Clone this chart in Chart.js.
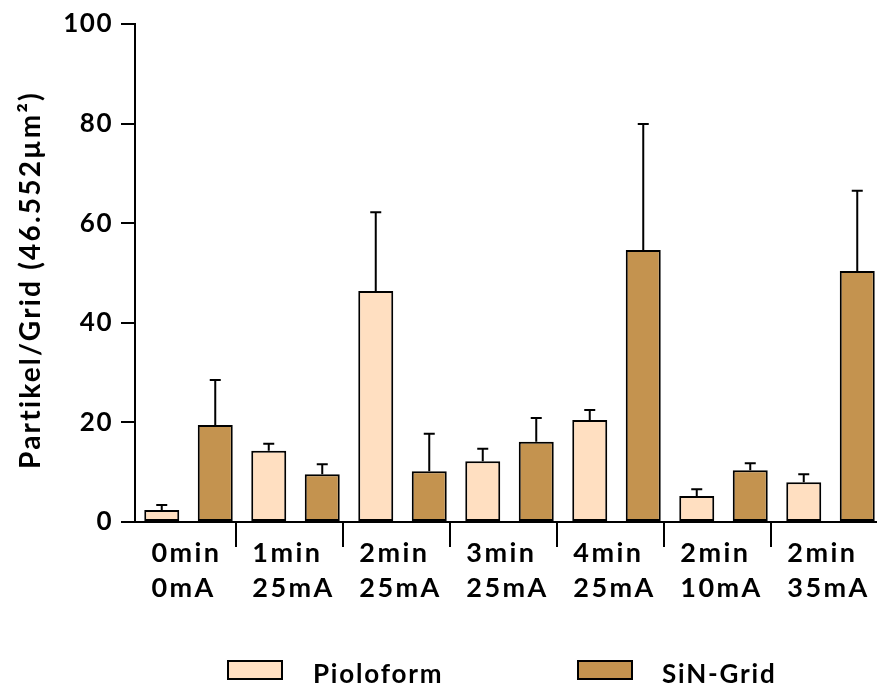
<!DOCTYPE html>
<html>
<head>
<meta charset="utf-8">
<script src="https://cdn.jsdelivr.net/npm/chart.js@4"></script>
<style>
  html, body { margin: 0; padding: 0; background: #fff; overflow: hidden; }
  #wrap { position: relative; width: 877px; height: 683px; overflow: hidden; }
  #chart { position: absolute; left: 0; top: 0; }
  .swatch { position: absolute; top: 660px; width: 52px; height: 16px; border: 2px solid #000; }
  .legend-text { position: absolute; top: 657px; white-space: nowrap; line-height: 26px;
                 font: bold 26px Lato, sans-serif; letter-spacing: 1.8px; color: #000; }
</style>
</head>
<body>
<div id="wrap">
  <canvas id="chart" width="884" height="683"></canvas>
  <span class="swatch" style="left:227px; background:#FFDFC1"></span>
  <span class="legend-text" style="left:313px">Pioloform</span>
  <span class="swatch" style="left:577px; background:#C4934F"></span>
  <span class="legend-text" style="left:662px">SiN-Grid</span>
</div>
<script>
// ---- data ----
const categories = [
  ["0min", "0mA"], ["1min", "25mA"], ["2min", "25mA"], ["3min", "25mA"],
  ["4min", "25mA"], ["2min", "10mA"], ["2min", "35mA"]
];
const pioloform    = [2.4, 14.3, 46.4, 12.2, 20.5, 5.2, 8.0];
const pioloformErr = [1.0, 1.4, 15.8, 2.5, 2.0, 1.4, 1.6];
const sinGrid      = [19.5, 9.6, 10.2, 16.1, 54.6, 10.4, 50.4];
const sinGridErr   = [9.0, 2.0, 7.5, 4.8, 25.3, 1.4, 16.1];
const yTicks = [0, 20, 40, 60, 80, 100];
const yTitle = "Partikel/Grid (46.552µm²)";

// ---- style ----
const PIO_FILL = "#FFDFC1";
const SIN_FILL = "#C4934F";
const INK = "#000";
const FONT = "Lato, sans-serif";
const CAP = 11;        // error bar cap width
const SEP_LEN = 25;    // category separator length below the axis
const SEP_SHIFT = 6;   // separators sit a little left of the group boundary
const TITLE_X = 40;    // baseline of the rotated y title
const TITLE_Y = 280;

const errors = [pioloformErr, sinGridErr];

// wider glyph spacing for everything Chart.js draws itself (tick labels)
const spacing = {
  id: "spacing",
  beforeDraw(chart) { chart.ctx.letterSpacing = "1.5px"; }
};

// upward-only error bars with a flat cap
const errorBars = {
  id: "errorBars",
  afterDatasetsDraw(chart) {
    const { ctx } = chart;
    const y = chart.scales.y;
    ctx.save();
    ctx.strokeStyle = INK;
    ctx.lineWidth = 2;
    chart.data.datasets.forEach((ds, di) => {
      chart.getDatasetMeta(di).data.forEach((bar, i) => {
        const top = y.getPixelForValue(ds.data[i] + errors[di][i]);
        ctx.beginPath();
        ctx.moveTo(bar.x, bar.y);
        ctx.lineTo(bar.x, top);
        ctx.moveTo(bar.x - CAP / 2, top);
        ctx.lineTo(bar.x + CAP / 2, top);
        ctx.stroke();
      });
    });
    ctx.restore();
  }
};

// two-line category labels (left-aligned block), separator ticks, y title
const axisText = {
  id: "axisText",
  afterDraw(chart) {
    const { ctx } = chart;
    const x = chart.scales.x;
    ctx.save();
    ctx.strokeStyle = INK;
    ctx.lineWidth = 2;
    for (let i = 1; i < categories.length; i++) {
      const px = Math.round((x.getPixelForValue(i - 1) + x.getPixelForValue(i)) / 2 - SEP_SHIFT);
      ctx.beginPath();
      ctx.moveTo(px, x.top);
      ctx.lineTo(px, x.top + SEP_LEN);
      ctx.stroke();
    }
    ctx.fillStyle = INK;
    ctx.font = "bold 27px " + FONT;
    ctx.letterSpacing = "2.4px";
    ctx.textAlign = "left";
    ctx.textBaseline = "alphabetic";
    categories.forEach((lines, i) => {
      const cx = x.getPixelForValue(i);
      const w = Math.max(...lines.map(l => ctx.measureText(l).width));
      lines.forEach((l, k) => ctx.fillText(l, cx - w / 2 - 2, x.top + 40 + k * 35));
    });

    ctx.font = "bold 28px " + FONT;
    ctx.letterSpacing = "2.2px";
    ctx.textAlign = "center";
    ctx.translate(TITLE_X, TITLE_Y);
    ctx.rotate(-Math.PI / 2);
    ctx.fillText(yTitle, 0, 0);
    ctx.restore();
  }
};

new Chart(document.getElementById("chart"), {
  type: "bar",
  data: {
    labels: categories,
    datasets: [
      { label: "Pioloform", data: pioloform, backgroundColor: PIO_FILL, borderColor: INK, borderWidth: 2, borderSkipped: false },
      { label: "SiN-Grid", data: sinGrid, backgroundColor: SIN_FILL, borderColor: INK, borderWidth: 2, borderSkipped: false }
    ]
  },
  options: {
    responsive: false,
    animation: false,
    devicePixelRatio: 1,
    layout: { padding: { top: 24, left: 0, right: 0, bottom: 0 } },
    datasets: { bar: { categoryPercentage: 1.0, barPercentage: 0.654 } },
    plugins: { legend: { display: false }, tooltip: { enabled: false } },
    scales: {
      x: {
        offset: true,
        grid: { display: false },
        border: { color: INK, width: 2 },
        ticks: { display: false },
        afterFit: (s) => { s.height = 161; }
      },
      y: {
        min: 0,
        max: 100,
        afterBuildTicks: (s) => { s.ticks = yTicks.map(v => ({ value: v })); },
        grid: { drawOnChartArea: false, tickLength: 14, color: INK, lineWidth: 2 },
        border: { color: INK, width: 2 },
        ticks: { color: INK, padding: 8, font: { family: FONT, size: 26, weight: "bold" } },
        afterFit: (s) => { s.width = 135; }
      }
    }
  },
  plugins: [spacing, errorBars, axisText]
});
</script>
</body>
</html>
